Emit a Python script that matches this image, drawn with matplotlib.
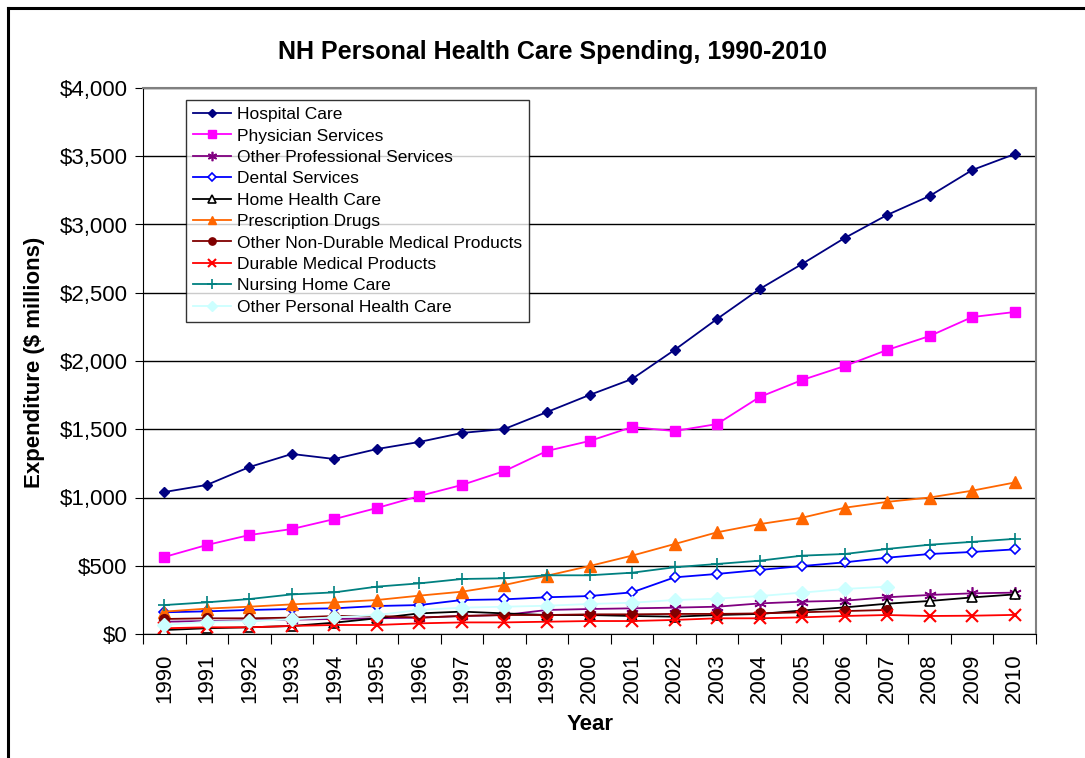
import numpy as np
import matplotlib
matplotlib.use("Agg")
import matplotlib.pyplot as plt
from matplotlib.lines import Line2D

plt.rcParams['font.family'] = ['Liberation Sans', 'DejaVu Sans']

years = [str(y) for y in range(1990, 2011)]
nan = np.nan

hospital = [1040, 1092, 1223, 1319, 1282, 1355, 1407, 1473, 1502, 1626, 1751,
            1868, 2081, 2308, 2527, 2711, 2901, 3070, 3209, 3399, 3516]
physician = [564, 652, 725, 769, 842, 923, 1011, 1092, 1194, 1341, 1414,
             1516, 1487, 1538, 1736, 1861, 1963, 2081, 2183, 2322, 2359]
other_prof = [90, 95, 100, 105, 110, 115, 120, 132, 139, 176, 183,
              188, 193, 200, 224, 237, 244, 269, 286, 298, 303]
dental = [159, 166, 176, 183, 188, 205, 212, 249, 254, 269, 278,
          305, 415, 440, 469, 498, 525, 559, 586, 601, 620]
home_health = [29, 42, 49, 59, 83, 115, 151, 164, 151, 139, 139,
               132, 127, 139, 147, 172, 195, 222, 242, 268, 290]
rx = [164, 186, 200, 217, 232, 249, 281, 310, 359, 427, 498,
      574, 659, 745, 805, 852, 925, 968, 1000, 1050, 1110]
other_nondurable = [110, 115, 115, 120, 132, 132, 120, 132, 139, 139, 144,
                    144, 147, 147, 151, 159, 168, 176, nan, nan, nan]
durable = [42, 49, 49, 59, 66, 66, 78, 85, 85, 90, 95,
           95, 103, 115, 115, 122, 132, 139, 132, 134, 140]
nursing = [212, 232, 256, 290, 305, 347, 371, 403, 408, 430, 430,
           449, 489, 513, 537, 574, 586, 623, 654, 675, 697]
other_personal = [66, 90, 95, 107, 122, 139, 176, 193, 200, 207, 220,
                  229, 249, 259, 278, 303, 330, 347, nan, nan, nan]

series = [
    ("Hospital Care", hospital, dict(color="#000080", marker="D", ms=5, mfc="#000080", mec="#000080")),
    ("Physician Services", physician, dict(color="#FF00FF", marker="s", ms=7, mfc="#FF00FF", mec="#FF00FF")),
    ("Other Professional Services", other_prof, dict(color="#800080", marker=(6, 2, 0), ms=9, mfc="#800080", mec="#800080", mew=1.2)),
    ("Dental Services", dental, dict(color="#0000FF", marker="D", ms=5.5, mfc="white", mec="#0000FF", mew=1.2)),
    ("Home Health Care", home_health, dict(color="#000000", marker="^", ms=7, mfc="white", mec="#000000", mew=1.2)),
    ("Prescription Drugs", rx, dict(color="#FF6600", marker="^", ms=8, mfc="#FF6600", mec="#FF6600")),
    ("Other Non-Durable Medical Products", other_nondurable, dict(color="#800000", marker="o", ms=7, mfc="#800000", mec="#800000")),
    ("Durable Medical Products", durable, dict(color="#FF0000", marker="x", ms=8, mec="#FF0000", mew=1.5)),
    ("Nursing Home Care", nursing, dict(color="#008080", marker="+", ms=9, mec="#008080", mew=1.2)),
    ("Other Personal Health Care", other_personal, dict(color="#CCFFFF", marker="D", ms=7, mfc="#CCFFFF", mec="#CCFFFF")),
]

fig = plt.figure(figsize=(10.85, 7.58), dpi=100)
ax = fig.add_axes([143/1085, 1-634/758, (1036-143)/1085, (634-88)/758])

x = np.arange(len(years))
for label, vals, style in series:
    ax.plot(x, vals, label=label, lw=1.3, **style)

ax.set_xlim(-0.5, len(years) - 0.5)
ax.set_ylim(0, 4000)
ax.set_yticks(np.arange(0, 4001, 500))
ax.set_yticklabels([f"${v:,}" for v in range(0, 4001, 500)], fontsize=16)
ax.yaxis.grid(True, color="black", lw=1)
ax.set_axisbelow(True)

ax.set_xticks(np.arange(-0.5, len(years), 1.0))
ax.set_xticklabels([])
ax.set_xticks(x, minor=True)
ax.set_xticklabels(years, minor=True, rotation=90, fontsize=16)
ax.tick_params(axis='x', which='major', length=7, direction='out', color='black')
ax.tick_params(axis='x', which='minor', length=0, pad=14)
ax.tick_params(axis='y', length=6, pad=5, direction='out')

ax.spines['top'].set_color('#808080')
ax.spines['right'].set_color('#808080')
ax.spines['top'].set_linewidth(1.5)
ax.spines['right'].set_linewidth(1.5)
ax.spines['left'].set_color('black')
ax.spines['bottom'].set_color('black')

leg = ax.legend(loc='upper left', bbox_to_anchor=(0.048, 0.978), borderaxespad=0,
                fontsize=12.5, frameon=True, fancybox=False, edgecolor='black',
                handlelength=2.2, handletextpad=0.35, labelspacing=0.36,
                borderpad=0.4, markerscale=0.75)
leg.get_frame().set_linewidth(1.0)

fig.text(553/1085, 1-52/758, "NH Personal Health Care Spending, 1990-2010",
         ha='center', va='center', fontsize=18, fontweight='bold')
fig.text(35/1085, 1-362/758, "Expenditure ($ millions)", ha='center', va='center',
         rotation=90, fontsize=16, fontweight='bold')
fig.text(590/1085, 1-724/758, "Year", ha='center', va='center',
         fontsize=16, fontweight='bold')

# figure border (chart area frame)
fig.add_artist(Line2D([8/1085, 1.0], [1-8/758, 1-8/758], transform=fig.transFigure,
                      color='black', lw=2.2))
fig.add_artist(Line2D([8/1085, 8/1085], [1-8/758, 0.0], transform=fig.transFigure,
                      color='black', lw=2.2))

fig.savefig("out.png", dpi=100)
